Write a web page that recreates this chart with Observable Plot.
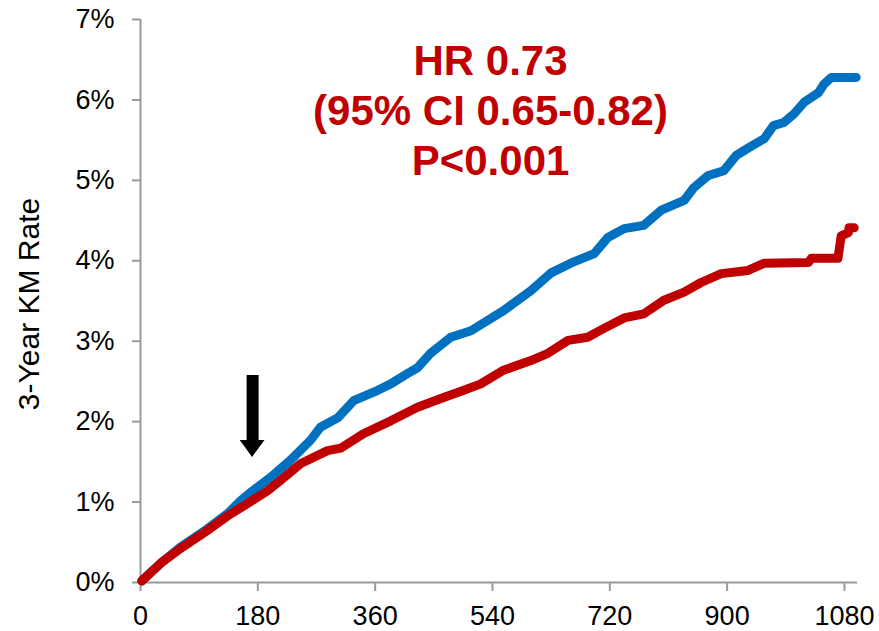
<!DOCTYPE html>
<html>
<head>
<meta charset="utf-8">
<script src="https://cdn.jsdelivr.net/npm/d3@7"></script>
<script src="https://cdn.jsdelivr.net/npm/@observablehq/plot@0.6"></script>
<style>
  html, body { margin: 0; padding: 0; background: #ffffff; }
  #chart { width: 879px; height: 631px; }
</style>
</head>
<body>
<div id="chart"></div>
<script>
// ---- data (days since start, cumulative KM rate in %) ----
const blueDays = [2,31,61,103,134,154,169,200,230,261,276,303,327,364,384,410,425,445,476,507,557,599,630,660,696,717,742,772,799,834,849,871,895,914,932,957,971,987,1003,1018,1040,1049,1060,1098];
const bluePct  = [0.02,0.24,0.44,0.67,0.86,1.02,1.12,1.31,1.52,1.77,1.93,2.05,2.26,2.39,2.47,2.60,2.67,2.85,3.05,3.13,3.38,3.63,3.85,3.97,4.09,4.29,4.40,4.44,4.63,4.75,4.91,5.06,5.12,5.31,5.40,5.52,5.68,5.72,5.83,5.97,6.09,6.20,6.28,6.28];

const redDays = [2,31,61,103,134,164,195,215,246,287,307,342,384,425,465,496,522,557,599,625,656,686,711,742,772,803,834,860,891,932,957,1025,1029,1070,1075,1086,1087,1095];
const redPct  = [0.02,0.24,0.42,0.65,0.83,0.98,1.14,1.27,1.48,1.64,1.67,1.85,2.01,2.18,2.30,2.39,2.47,2.64,2.76,2.85,3.01,3.05,3.16,3.29,3.34,3.51,3.61,3.73,3.84,3.88,3.97,3.98,4.03,4.03,4.31,4.35,4.41,4.41];

const xTicks = [0,180,360,540,720,900,1080];
const yTicks = [0,1,2,3,4,5,6,7];
const annotationText = "HR 0.73\n(95% CI 0.65-0.82)\nP<0.001";
const yLabel = "3-Year KM Rate";

// arrow annotation (day, %)
const arrowDay = 172;
const arrowTop = 2.575, arrowHeadBase = 1.766, arrowTip = 1.555, arrowHalfWidth = 19;

const blue = blueDays.map((d, i) => ({day: d, pct: bluePct[i]}));
const red = redDays.map((d, i) => ({day: d, pct: redPct[i]}));
const head = [
  {x: arrowDay - arrowHalfWidth, y1: arrowHeadBase, y2: arrowHeadBase},
  {x: arrowDay, y1: arrowHeadBase, y2: arrowTip},
  {x: arrowDay + arrowHalfWidth, y1: arrowHeadBase, y2: arrowHeadBase}
];

const FONT = "'Liberation Sans', Arial, Helvetica, sans-serif";
const AXIS = "#9a9a9a";

const plot = Plot.plot({
  width: 879,
  height: 631,
  marginLeft: 140,
  marginRight: 22,
  marginTop: 19,
  marginBottom: 49,
  style: {fontFamily: FONT, background: "#ffffff", color: "#000"},
  x: {domain: [0, 1100]},
  y: {domain: [0, 7]},
  marks: [
    Plot.axisX({ticks: xTicks, tickFormat: d => String(d), tickSize: 9, tickPadding: 14, fontSize: 27, stroke: AXIS, strokeWidth: 2, fill: "#000", label: null}),
    Plot.axisY({ticks: yTicks, tickFormat: d => d + "%", tickSize: 8, tickPadding: 18, fontSize: 27, stroke: AXIS, strokeWidth: 2, fill: "#000", label: null}),
    Plot.ruleY([0], {stroke: AXIS, strokeWidth: 2}),
    Plot.ruleX([0], {stroke: AXIS, strokeWidth: 2}),
    Plot.line(blue, {x: "day", y: "pct", stroke: "#0070c0", strokeWidth: 9, strokeLinecap: "round", strokeLinejoin: "round"}),
    Plot.line(red, {x: "day", y: "pct", stroke: "#c00000", strokeWidth: 9, strokeLinecap: "round", strokeLinejoin: "round"}),
    Plot.ruleX([arrowDay], {y1: arrowTop, y2: arrowHeadBase, stroke: "#000", strokeWidth: 12}),
    Plot.areaY(head, {x: "x", y1: "y1", y2: "y2", fill: "#000"}),
    Plot.text([annotationText], {x: 537, y: 5.89, text: d => d, fill: "#c00000", fontSize: 42, fontWeight: "bold", lineHeight: 1.19, textAnchor: "middle", lineAnchor: "middle"}),
    Plot.text([yLabel], {frameAnchor: "left", text: d => d, rotate: -90, dx: -111, dy: 3, fontSize: 30, fill: "#000", textAnchor: "middle", lineAnchor: "middle"})
  ]
});
document.getElementById("chart").appendChild(plot);
</script>
</body>
</html>
